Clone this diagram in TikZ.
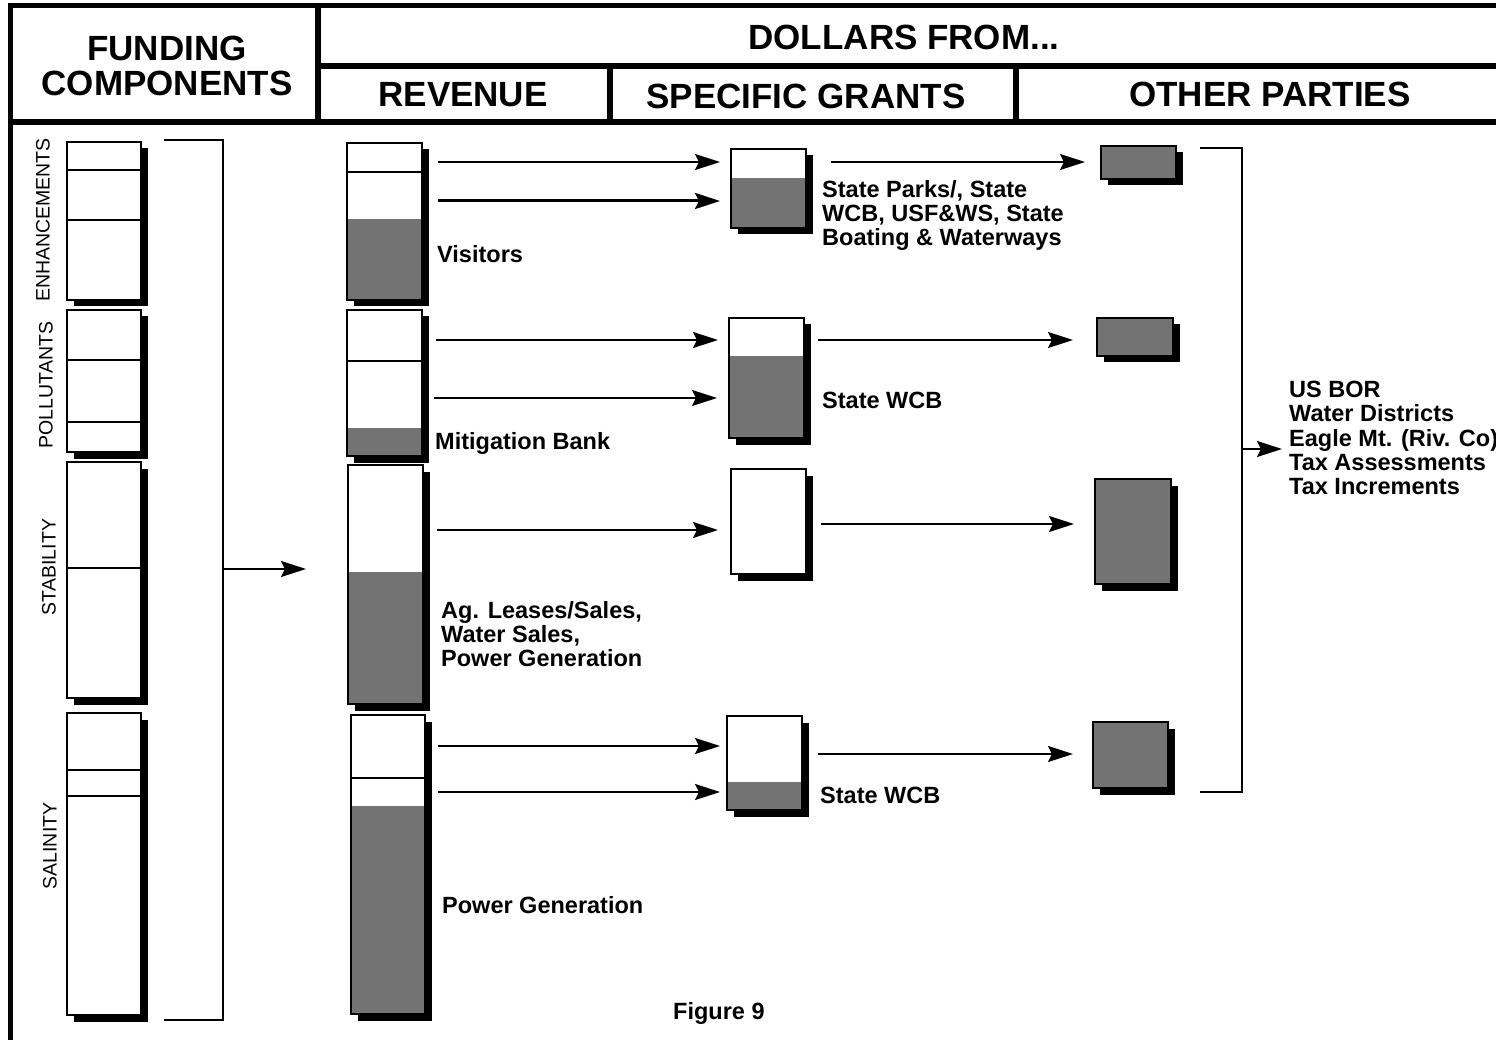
\documentclass[tikz,border=0pt]{standalone}
\usepackage{fontspec}
\setmainfont{Liberation Sans}
\usetikzlibrary{arrows.meta}
\tikzset{
 bx/.style={rectangle, fill=white, draw=none, anchor=north west, inner sep=0pt, outer sep=0pt},
 shd/.style={fill=black!55},
 edgeline/.style={line width=1.6pt},
 arr/.style={line width=2pt, -{Stealth[length=25pt,width=16pt,inset=4pt]}},
 hdr/.style={font=\bfseries\fontsize{35}{35}\selectfont, inner sep=0pt, align=center},
 lbl/.style={font=\bfseries\fontsize{23.5}{24.3}\selectfont, inner sep=0pt, align=left},
 side/.style={font=\fontsize{19.5}{20}\selectfont, inner sep=0pt, rotate=90},
 frameline/.style={line width=5.5pt},
 brk/.style={line width=2pt},
}
\newcommand\mkbar[5]{%
  \fill[black] (#2+6.5,#3+6.5) rectangle (#2+#4+6.5,#3+#5+6.5);
  \node[bx, minimum width=#4pt, minimum height=#5pt] (#1) at (#2,#3) {};}
\newcommand\shadefrom[2]{\fill[shd] (#1.east |- 0,#2) rectangle (#1.south west);}
\newcommand\shadeall[1]{\fill[shd] (#1.north west) rectangle (#1.south east);}
\newcommand\divline[2]{\draw[edgeline] (#1.west |- 0,#2) -- (#1.east |- 0,#2);}
\newcommand\bxborder[1]{\draw[edgeline] (#1.north west) rectangle (#1.south east);}
\begin{document}
\begin{tikzpicture}[x=1pt,y=-1pt]
\useasboundingbox (0,0) rectangle (1496,1040);
\fill[white] (0,0) rectangle (1496,1040);
% frame and header grid
\draw[frameline] (10.5,1045) -- (10.5,5.5) -- (1505,5.5);
\draw[frameline] (318,5) -- (318,122);
\draw[frameline] (318,66) -- (1505,66);
\draw[frameline] (610,66) -- (610,122);
\draw[frameline] (1016,66) -- (1016,122);
\draw[frameline] (8,122) -- (1505,122);
\node[hdr] (hfund) at (167,65.5) {FUNDING\\COMPONENTS};
\node[hdr] (hdol) at (904,37) {DOLLARS FROM...};
\node[hdr] (hrev) at (463,95) {REVENUE};
\node[hdr] (hgr) at (806,96) {SPECIFIC GRANTS};
\node[hdr] (hoth) at (1270,94) {OTHER PARTIES};
% side labels
\node[side] (senh) at (43,220) {ENHANCEMENTS};
\node[side] (spol) at (46,385) {POLLUTANTS};
\node[side] (ssta) at (49,567) {STABILITY};
\node[side] (ssal) at (50,846) {SALINITY};
% funding component bars
\mkbar{F1}{67}{142}{74}{158}
\divline{F1}{170}\divline{F1}{220}\bxborder{F1}
\mkbar{F2}{67}{310}{74}{142}
\divline{F2}{360}\divline{F2}{422}\bxborder{F2}
\mkbar{F3}{67}{462}{74}{236}
\divline{F3}{568}\bxborder{F3}
\mkbar{F4}{67}{713}{74}{302}
\divline{F4}{770}\divline{F4}{796}\bxborder{F4}
% revenue bars
\mkbar{R1}{347}{143}{75}{157}
\shadefrom{R1}{219}\divline{R1}{172}\bxborder{R1}
\mkbar{R2}{347}{310}{75}{146}
\shadefrom{R2}{428}\divline{R2}{361}\bxborder{R2}
\mkbar{R3}{348}{465}{75}{239}
\shadefrom{R3}{572}\bxborder{R3}
\mkbar{R4}{351}{715}{74}{299}
\shadefrom{R4}{806}\divline{R4}{778}\bxborder{R4}
% grant bars
\mkbar{G1}{731}{149}{75}{79}
\shadefrom{G1}{178}\bxborder{G1}
\mkbar{G2}{729}{318}{75}{120}
\shadefrom{G2}{356}\bxborder{G2}
\mkbar{G3}{731}{469}{75}{105}
\bxborder{G3}
\mkbar{G4}{727}{716}{75}{94}
\shadefrom{G4}{782}\bxborder{G4}
% other parties bars
\mkbar{O1}{1101}{146}{75}{33}
\shadeall{O1}\bxborder{O1}
\mkbar{O2}{1097}{318}{76}{38}
\shadeall{O2}\bxborder{O2}
\mkbar{O3}{1095}{479}{76}{105}
\shadeall{O3}\bxborder{O3}
\mkbar{O4}{1093}{722}{75}{66}
\shadeall{O4}\bxborder{O4}
% arrows revenue -> grants
\draw[arr, shorten <=16pt, shorten >=11pt] (R1.east |- 0,162) -- (G1.west |- 0,162);
\draw[arr, line width=3pt, shorten <=16pt, shorten >=11pt] (R1.east |- 0,201) -- (G1.west |- 0,201);
\draw[arr, shorten <=14pt, shorten >=11pt] (R2.east |- 0,340) -- (G2.west |- 0,340);
\draw[arr, shorten <=12pt, shorten >=12pt] (R2.east |- 0,398) -- (G2.west |- 0,398);
\draw[arr, shorten <=14pt, shorten >=13pt] (R3.east |- 0,530) -- (G3.west |- 0,530);
\draw[arr, shorten <=13pt, shorten >=7pt] (R4.east |- 0,746) -- (G4.west |- 0,746);
\draw[arr, shorten <=13pt, shorten >=7pt] (R4.east |- 0,792) -- (G4.west |- 0,792);
% arrows grants -> other parties
\draw[arr, shorten <=25pt, shorten >=16pt] (G1.east |- 0,162) -- (O1.west |- 0,162);
\draw[arr, shorten <=14pt, shorten >=24pt] (G2.east |- 0,340) -- (O2.west |- 0,340);
\draw[arr, shorten <=15pt, shorten >=21pt] (G3.east |- 0,524) -- (O3.west |- 0,524);
\draw[arr, shorten <=16pt, shorten >=20pt] (G4.east |- 0,754) -- (O4.west |- 0,754);
% left bracket
\coordinate (lb1) at (164,140);
\coordinate (lb2) at (223,140);
\coordinate (lb3) at (223,1020);
\coordinate (lb4) at (164,1020);
\coordinate (lbm) at (223,569);
\coordinate (lbt) at (306,569);
\draw[brk] (lb1) -- (lb2) -- (lb3) -- (lb4);
\draw[arr] (lbm) -- (lbt);
% right bracket
\coordinate (rb1) at (1200,148);
\coordinate (rb2) at (1242,148);
\coordinate (rb3) at (1242,792);
\coordinate (rb4) at (1200,792);
\coordinate (rbm) at (1242,449);
\draw[brk] (rb1) -- (rb2) -- (rb3) -- (rb4);
\node[lbl, anchor=north west] (parties) at (1289,381) {US BOR\\Water Districts\\Eagle Mt. (Riv. Co)\\Tax Assessments\\Tax Increments};
\draw[arr, shorten >=7pt] (rbm) -- (parties.west |- rbm);
% labels
\node[lbl, anchor=base west] (tvis) at (437,263) {Visitors};
\node[lbl, anchor=base west] (tmit) at (435,449) {Mitigation Bank};
\node[lbl, anchor=north west] (tag) at (441,601) {Ag. Leases/Sales,\\Water Sales,\\Power Generation};
\node[lbl, anchor=base west] (tpow) at (442,913) {Power Generation};
\node[lbl, anchor=north west] (tsp) at (822,180) {State Parks/, State\\WCB, USF\&WS, State\\Boating \& Waterways};
\node[lbl, anchor=base west] (twcb1) at (822,408) {State WCB};
\node[lbl, anchor=base west] (twcb2) at (820,803) {State WCB};
\node[lbl, anchor=base west] (tfig) at (673,1019) {Figure 9};
\end{tikzpicture}
\end{document}
